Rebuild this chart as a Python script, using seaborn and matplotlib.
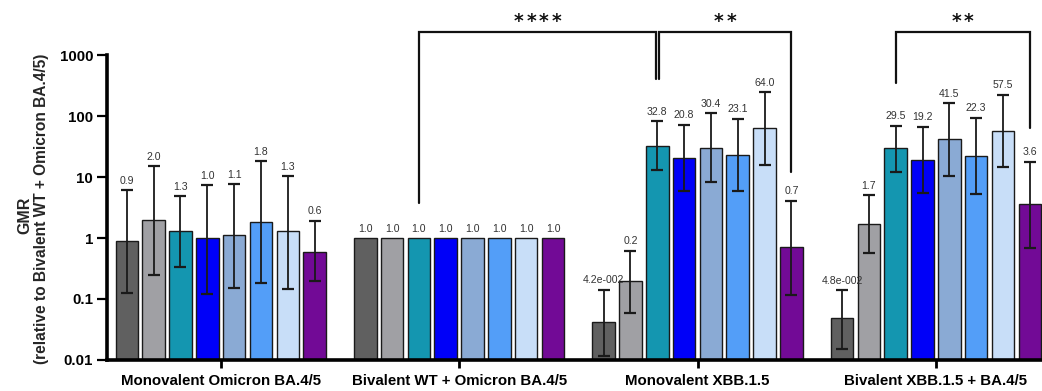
import numpy as np
import pandas as pd
import matplotlib
matplotlib.use("Agg")
import matplotlib.pyplot as plt
from matplotlib.ticker import NullLocator
import seaborn as sns

# ---------------- data ----------------
groups = ["Monovalent Omicron BA.4/5", "Bivalent WT + Omicron BA.4/5",
          "Monovalent XBB.1.5", "Bivalent XBB.1.5 + BA.4/5"]
variants = ["Variant 1", "Variant 2", "Variant 3", "Variant 4",
            "Variant 5", "Variant 6", "Variant 7", "Variant 8"]
colors = ["#606060", "#a0a0a4", "#1496b0", "#0000f8",
          "#8aaad4", "#539ef8", "#c8def8", "#720a96"]

gmr_mono_ba45 = [0.9, 2.0, 1.3, 1.0, 1.1, 1.8, 1.3, 0.6]
lo_mono_ba45 = [0.126, 0.25, 0.335, 0.119, 0.153, 0.18, 0.147, 0.2]
hi_mono_ba45 = [6.1, 15.1, 4.8, 7.4, 7.55, 18.3, 10.4, 1.93]

gmr_biv_wt_ba45 = [1.0, 1.0, 1.0, 1.0, 1.0, 1.0, 1.0, 1.0]
lo_biv_wt_ba45 = [np.nan] * 8
hi_biv_wt_ba45 = [np.nan] * 8

gmr_mono_xbb = [0.042, 0.2, 32.8, 20.8, 30.4, 23.1, 64.0, 0.7]
lo_mono_xbb = [0.0115, 0.06, 12.8, 5.86, 8.25, 5.86, 15.6, 0.116]
hi_mono_xbb = [0.142, 0.62, 83.0, 72.5, 111.0, 89.6, 246.0, 4.07]

gmr_biv_xbb = [0.048, 1.7, 29.5, 19.2, 41.5, 22.3, 57.5, 3.6]
lo_biv_xbb = [0.0152, 0.56, 12.2, 5.43, 10.5, 5.24, 14.4, 0.695]
hi_biv_xbb = [0.138, 4.98, 69.6, 66.3, 163.0, 93.0, 225.0, 17.9]

y_ticks = [0.01, 0.1, 1, 10, 100, 1000]
y_tick_labels = ["0.01", "0.1", "1", "10", "100", "1000"]

# comparisons: (group a, variant a, leg a bottom, group b, variant b, leg b bottom, label)
comparisons = [
    (1, 2, 3.7, 2, 2, 400.0, "****"),
    (2, 2, 400.0, 2, 7, 12.0, "**"),
    (3, 2, 350.0, 3, 7, 63.0, "**"),
]
bracket_top = 2400.0

# ---------------- frame ----------------
all_gmr = [gmr_mono_ba45, gmr_biv_wt_ba45, gmr_mono_xbb, gmr_biv_xbb]
all_lo = [lo_mono_ba45, lo_biv_wt_ba45, lo_mono_xbb, lo_biv_xbb]
all_hi = [hi_mono_ba45, hi_biv_wt_ba45, hi_mono_xbb, hi_biv_xbb]
rows = []
for g, vals, los, his in zip(groups, all_gmr, all_lo, all_hi):
    for v, val, lo, hi in zip(variants, vals, los, his):
        rows.append(dict(group=g, variant=v, gmr=val, lo=lo, hi=hi))
df = pd.DataFrame(rows)


def fmt(v):
    if v < 0.1:
        e = int(np.floor(np.log10(v)))
        m = v / 10 ** e
        return f"{m:.1f}e-{abs(e):03d}"
    return f"{v:.1f}"


# ---------------- plot ----------------
sns.set_style("ticks")
plt.rcParams["font.family"] = ["Liberation Sans", "DejaVu Sans"]

fig = plt.figure(figsize=(10.42, 3.91), dpi=100)
ax = fig.add_axes([0.1027, 0.0793, 1 - 0.1027, 0.78])
ax.set_yscale("log")

sns.barplot(data=df, x="group", y="gmr", hue="variant", order=groups,
            hue_order=variants, palette=colors, saturation=1, width=0.9,
            gap=0.16, errorbar=None, edgecolor="#1a1a1a", linewidth=1.0,
            legend=False, ax=ax)

ax.set_ylim(0.01, 1000)
ax.set_xlim(-0.477, 3.445)

# error bars + labels
bar_containers = list(ax.containers)
bar_x = {}
for vi, cont in enumerate(bar_containers):
    for patch in cont.patches:
        xc = patch.get_x() + patch.get_width() / 2
        gi = int(round(xc))
        bar_x[(gi, vi)] = xc
        r = df[(df.group == groups[gi]) & (df.variant == variants[vi])].iloc[0]
        top = r.gmr
        if not np.isnan(r.hi):
            ax.errorbar([xc], [r.gmr],
                        yerr=[[r.gmr - r.lo], [r.hi - r.gmr]],
                        fmt="none", ecolor="#1a1a1a", elinewidth=1.3,
                        capsize=4.5, capthick=1.6, zorder=3)
            top = r.hi
        ax.annotate(fmt(r.gmr), (xc, top), xytext=(0, 3.2),
                    textcoords="offset points", ha="center", va="bottom",
                    fontsize=7.6, color="#333333", zorder=4)

# significance brackets
for k, (ga, va_, ya, gb, vb, yb, lab) in enumerate(comparisons):
    xa = bar_x[(ga, va_)]
    xb = bar_x[(gb, vb)]
    if k == 0:
        xb -= 0.006
    if k == 1:
        xa += 0.006
    ax.plot([xa, xa, xb, xb], [ya, bracket_top, bracket_top, yb],
            color="#111111", lw=1.6, clip_on=False, zorder=5,
            solid_joinstyle="miter")
    n = len(lab)
    for j in range(n):
        ax.annotate("*", ((xa + xb) / 2, bracket_top),
                    xytext=((j - (n - 1) / 2) * 9.0, 3.5),
                    textcoords="offset points", ha="center", va="baseline",
                    fontsize=13.5, fontweight="bold", family="DejaVu Sans",
                    color="#111111", annotation_clip=False)

# axes styling
ax.set_yticks(y_ticks)
ax.set_yticklabels(y_tick_labels)
ax.yaxis.set_minor_locator(NullLocator())
for lab in ax.get_yticklabels() + ax.get_xticklabels():
    lab.set_fontweight("bold")
    lab.set_fontsize(10.8)
    lab.set_color("black")
ax.tick_params(axis="y", length=7, width=1.6, pad=3, colors="black")
ax.tick_params(axis="x", length=6, width=2.0, pad=4, colors="black")
ax.set_xlabel("")
ax.set_ylabel("")
for s in ["top", "right"]:
    ax.spines[s].set_visible(False)
for s in ["left", "bottom"]:
    ax.spines[s].set_linewidth(2.6)
    ax.spines[s].set_color("black")

fig.text(25 / 1042, 0.45, "GMR", rotation=90, ha="center", va="center",
         fontsize=11.5, fontweight="bold")
fig.text(42 / 1042, 0.465, "(relative to Bivalent WT + Omicron BA.4/5)",
         rotation=90, ha="center", va="center", fontsize=11.2,
         fontweight="bold")

fig.savefig("out.png", dpi=100)
